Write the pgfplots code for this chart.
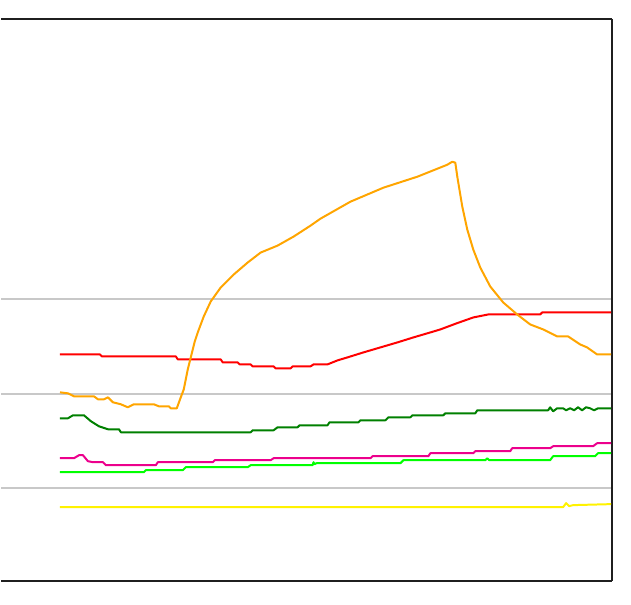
\documentclass[border=0pt]{standalone}
\usepackage{pgfplots}
\pgfplotsset{compat=1.18}
\definecolor{gridc}{HTML}{C8C8C8}
\definecolor{dgreen}{HTML}{008000}
\definecolor{orng}{HTML}{FFA500}
\begin{document}
\begin{tikzpicture}
\begin{axis}[
  x=1pt, y=1pt, y dir=reverse,
  xmin=0, xmax=612, ymin=19, ymax=582,
  axis x line=box, axis y line=right,
  axis line style={-, line width=2.2pt, black!88},
  xtick=\empty, ytick={300,395,489}, yticklabels={},
  major tick length=0pt,
  ymajorgrids, grid style={gridc, line width=2pt},
  clip=false,
  every axis plot/.append style={line width=2pt, mark=none, line join=round},
]
% red
\addplot[red] coordinates {(59,355)(99,355)(101,357)(175,357)(177,360)(220,360)(222,363)(237,363)(239,365)(250,365)(252,367)(273,367)(275,369)(290,369)(292,367)(310,367)(313,365)(327,365)(337,361)(347,358)(363,353)(380,348)(397,343)(413,338)(430,333)(440,330)(456,324)(473,318)(488,315)(540,315)(542,313)(611,313)};
% orange
\addplot[orng] coordinates {(59,393)(67,394)(73,397)(93,397)(97,400)(103,400)(107,398)(112,403)(120,405)(127,408)(133,405)(153,405)(158,407)(168,407)(170,409)(176,409)(180,398)(183,390)(187,370)(190,358)(194,342)(197,333)(203,317)(210,302)(220,288)(233,275)(247,263)(260,253)(277,246)(293,237)(310,226)(320,219)(350,202)(383,188)(417,177)(447,165)(452,162)(455,163)(457,177)(462,207)(467,230)(473,250)(480,268)(490,287)(503,303)(517,315)(530,325)(543,330)(557,337)(568,337)(580,345)(587,348)(597,355)(611,355)};
% dark green
\addplot[dgreen] coordinates {(59,419)(67,419)(72,416)(83,416)(90,422)(98,427)(107,430)(118,430)(120,433)(250,433)(252,431)(273,431)(277,428)(297,428)(299,426)(327,426)(329,423)(358,423)(360,421)(385,421)(388,418)(410,418)(412,416)(443,416)(445,414)(475,414)(477,411)(548,411)(550,408)(553,412)(557,409)(563,409)(566,411)(570,409)(574,411)(578,408)(582,411)(586,408)(590,409)(594,411)(598,409)(611,409)};
% magenta
\addplot[magenta] coordinates {(59,459)(73,459)(78,456)(82,456)(87,462)(92,463)(102,463)(105,466)(155,466)(157,463)(212,463)(214,461)(270,461)(273,459)(370,459)(372,457)(428,457)(430,454)(473,454)(475,452)(510,452)(512,449)(550,449)(553,447)(593,447)(597,444)(611,444)};
% lime
\addplot[green] coordinates {(59,473)(143,473)(145,471)(182,471)(185,468)(247,468)(250,466)(312,466)(313,463)(314,465)(316,464)(400,464)(403,461)(485,461)(487,459)(489,461)(550,461)(553,457)(595,457)(598,454)(611,454)};
% yellow
\addplot[yellow] coordinates {(59,508)(563,508)(566,504)(569,507)(573,506)(611,505)};
\coordinate (bl) at (axis cs:0,606);
\coordinate (tr) at (axis cs:631,0);
\end{axis}
\path (bl) rectangle (tr);
\end{tikzpicture}
\end{document}
